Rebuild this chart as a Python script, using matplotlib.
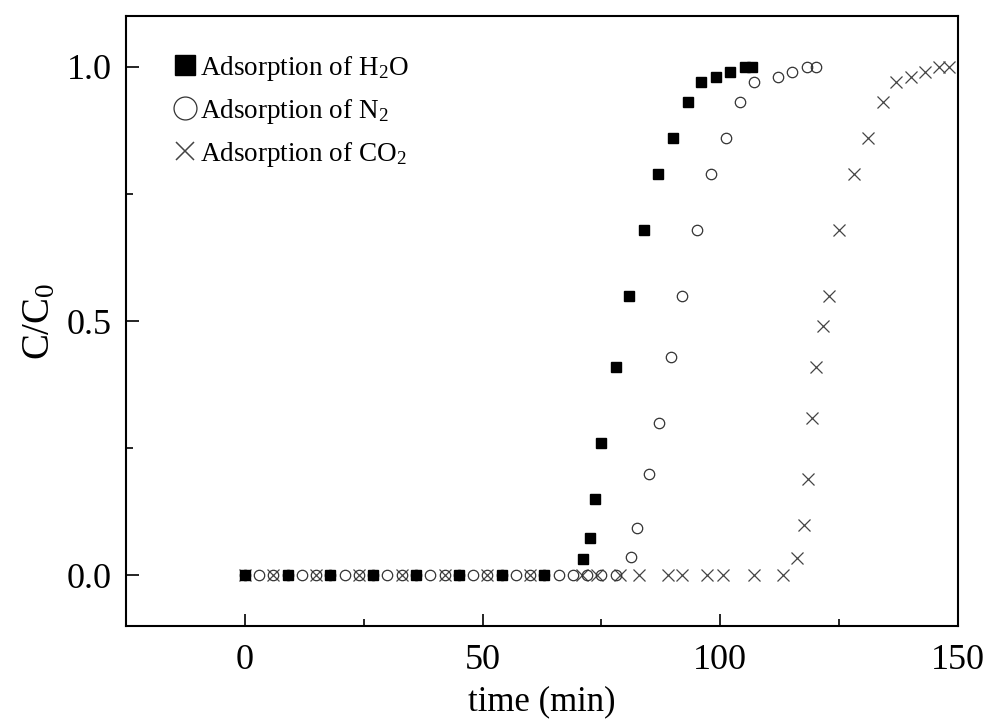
import matplotlib
matplotlib.use("Agg")
import matplotlib.pyplot as plt
from matplotlib.ticker import MultipleLocator, FormatStrFormatter

plt.rcParams['font.family'] = ['Liberation Serif', 'DejaVu Serif']
plt.rcParams['mathtext.fontset'] = 'custom'
plt.rcParams['mathtext.rm'] = 'Liberation Serif'
plt.rcParams['mathtext.it'] = 'Liberation Serif:italic'

# H2O adsorption
h2o_t = [0, 9, 18, 27, 36, 45, 54, 63, 71.1, 72.6, 73.6, 74.9, 78.0, 80.8, 83.9,
         86.9, 90.0, 93.2, 95.9, 99.1, 102.0, 105.2, 106.6]
h2o_c = [0, 0, 0, 0, 0, 0, 0, 0, 0.031, 0.073, 0.15, 0.26, 0.41, 0.55, 0.68,
         0.79, 0.86, 0.93, 0.97, 0.98, 0.99, 1.0, 1.0]

# N2 adsorption
n2_t = [0, 3, 6, 9, 12, 15, 18, 21, 24, 27, 30, 33, 36, 39, 42, 45, 48, 51, 54,
        57, 60, 63, 66, 69, 72, 75, 78,
        81.2, 82.5, 85.0, 87.1, 89.6, 92.0, 95.1, 98.0, 101.2, 104.1, 107.1,
        112.1, 115.1, 118.2, 120.1]
n2_c = [0] * 27 + [0.035, 0.093, 0.20, 0.30, 0.43, 0.55, 0.68, 0.79, 0.86,
                   0.93, 0.97, 0.98, 0.99, 1.0, 1.0]

# CO2 adsorption
co2_t = [0, 6, 15, 24, 33, 42, 51, 60, 70.9, 74.0, 79.0, 83.0, 88.9, 91.9, 97.3,
         100.5, 107.0, 113.2,
         116.1, 117.6, 118.4, 119.3, 120.2, 121.6, 122.8, 124.9, 128.1, 131.1,
         134.2, 136.9, 140.1, 143.0, 146.0, 148.1]
co2_c = [0] * 18 + [0.033, 0.098, 0.19, 0.31, 0.41, 0.49, 0.55, 0.68, 0.79,
                    0.86, 0.93, 0.97, 0.98, 0.99, 1.0, 1.0]

labels = ["Adsorption of H$\\mathregular{_2}$O",
          "Adsorption of N$\\mathregular{_2}$",
          "Adsorption of CO$\\mathregular{_2}$"]

fig = plt.figure(figsize=(9.86, 7.22), dpi=100)
ax = fig.add_axes([126 / 986, 1 - 626 / 722, (958 - 126) / 986, (626 - 16) / 722])

ax.plot(co2_t, co2_c, linestyle='none', marker='x', markersize=8,
        markeredgewidth=0.9, color='#444444', label=labels[2])
ax.plot(n2_t, n2_c, linestyle='none', marker='o', markersize=7.5,
        markerfacecolor='none', markeredgewidth=0.9, markeredgecolor='#333333',
        label=labels[1])
ax.plot(h2o_t, h2o_c, linestyle='none', marker='s', markersize=7,
        color='black', label=labels[0])

ax.set_xlim(-25, 150)
ax.set_ylim(-0.1, 1.1)
ax.xaxis.set_major_locator(MultipleLocator(50))
ax.xaxis.set_minor_locator(MultipleLocator(25))
ax.yaxis.set_major_locator(MultipleLocator(0.5))
ax.yaxis.set_minor_locator(MultipleLocator(0.25))
ax.yaxis.set_major_formatter(FormatStrFormatter('%.1f'))

for s in ax.spines.values():
    s.set_linewidth(1.5)
ax.tick_params(which='both', direction='in', top=False, right=False,
               width=1.2, labelsize=26)
ax.tick_params(which='major', length=9)
ax.tick_params(which='minor', length=5)
ax.tick_params(axis='x', pad=13)
ax.tick_params(axis='y', pad=10)

ax.set_xlabel("time (min)", fontsize=25, labelpad=6)
ax.set_ylabel("C/C$\\mathregular{_0}$", fontsize=28, labelpad=6)

handles, labs = ax.get_legend_handles_labels()
order = [2, 1, 0]
leg = ax.legend([handles[i] for i in order], [labs[i] for i in order],
                loc='upper left', frameon=False, fontsize=19.5, markerscale=2.0,
                handlelength=0.7, handletextpad=0.2, labelspacing=0.52,
                borderaxespad=0.2, bbox_to_anchor=(0.04, 0.965))
lh = leg.legend_handles
lh[0].set_markersize(15)
lh[1].set_markersize(16.5)
lh[2].set_markersize(13)
lh[2].set_markeredgewidth(1.1)

fig.savefig("out.png", dpi=100)
